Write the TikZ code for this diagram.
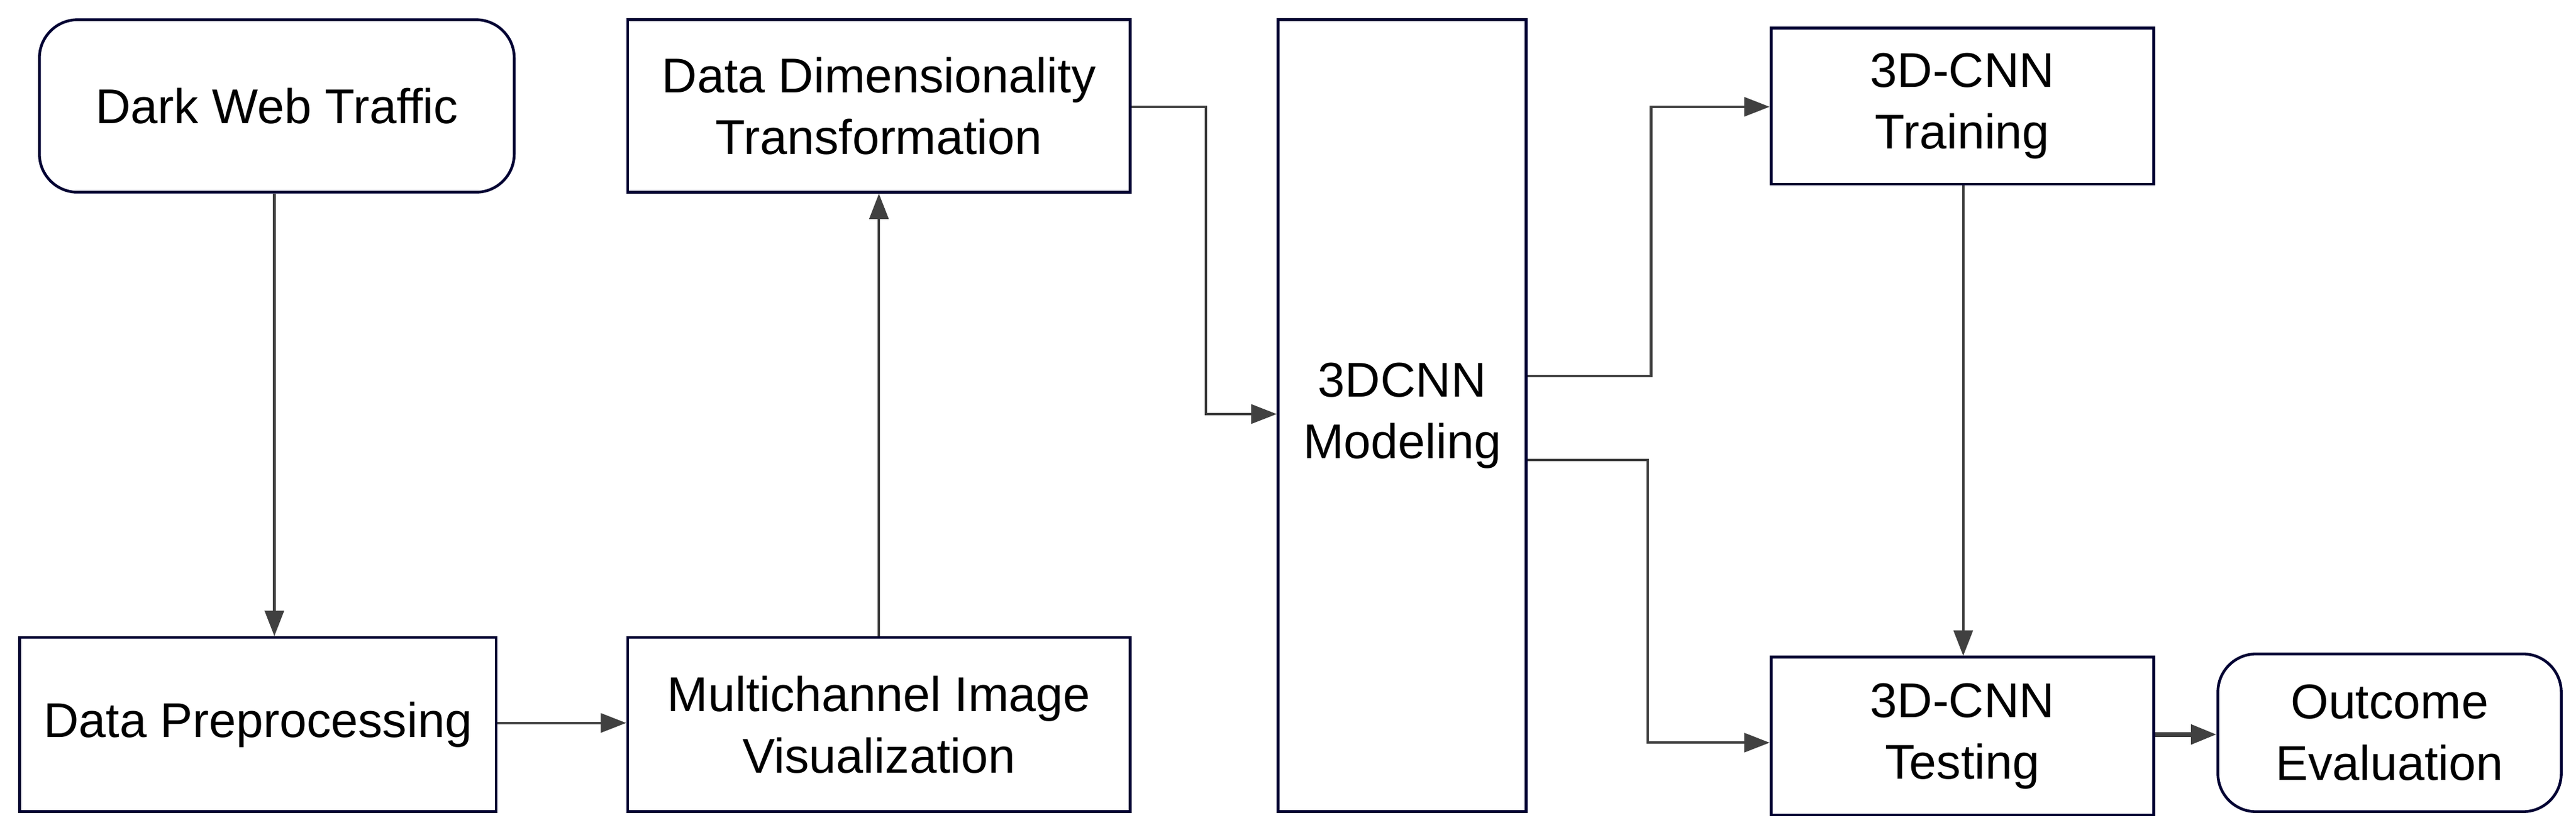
\documentclass[tikz,border=0pt]{standalone}
\usepackage{fontspec}
\setmainfont{Liberation Sans}
\usetikzlibrary{fit,arrows.meta}
\begin{document}
\begin{tikzpicture}[x=0.02722cm,y=-0.02722cm,
  box/.style={draw=black!80!blue,line width=1.3pt,inner sep=0pt},
  rbox/.style={box,rounded corners=18pt},
  lbl/.style={align=center,inner sep=0pt,font=\fontsize{23}{29}\selectfont},
  arr/.style={draw=black!75,line width=1.2pt,-{Triangle[length=12pt,width=9pt]}}]
\useasboundingbox (0,0) rectangle (1568,505);
\node[rbox,fit={(24,12)(313,117)}] (dwt) {};
\node[box,fit={(12,388)(302,494)}] (pre) {};
\node[box,fit={(382,388)(688,494)}] (mci) {};
\node[box,fit={(382,12)(688,117)}] (dim) {};
\node[box,fit={(778,12)(929,494)}] (cnn) {};
\node[box,fit={(1078,17)(1311,112)}] (tr) {};
\node[box,fit={(1078,400)(1311,496)}] (te) {};
\node[rbox,fit={(1350,398)(1559,494)}] (out) {};
\node[lbl] (dwtl) at (dwt.center) {Dark Web Traffic};
\node[lbl] (prel) at (pre.center) {Data Preprocessing};
\node[lbl] (mcil) at (mci.center) {Multichannel Image\\Visualization};
\node[lbl] (diml) at (dim.center) {Data Dimensionality\\Transformation};
\node[lbl] (cnnl) at (cnn.center) {3DCNN\\Modeling};
\node[lbl] (trl) at (tr.center) {3D-CNN\\Training};
\node[lbl] (tel) at (te.center) {3D-CNN\\Testing};
\node[lbl] (outl) at (out.center) {Outcome\\Evaluation};
\draw[arr] (dwt.south -| 167,0) -- (pre.north -| 167,0);
\draw[arr] (pre.east |- 0,440) -- (mci.west |- 0,440);
\draw[arr] (mci.north) -- (dim.south);
\draw[arr] (dim.east |- 0,65) -- (734,65) -- (734,252) -- (cnn.west |- 0,252);
\draw[arr] (cnn.east |- 0,229) -- (1005,229) -- (1005,65) -- (tr.west |- 0,65);
\draw[arr] (cnn.east |- 0,280) -- (1003,280) -- (1003,452) -- (te.west |- 0,452);
\draw[arr] (tr.south -| 1195,0) -- (te.north -| 1195,0);
\draw[arr,line width=2.2pt] (te.east |- 0,447) -- (out.west |- 0,447);
\end{tikzpicture}
\end{document}
